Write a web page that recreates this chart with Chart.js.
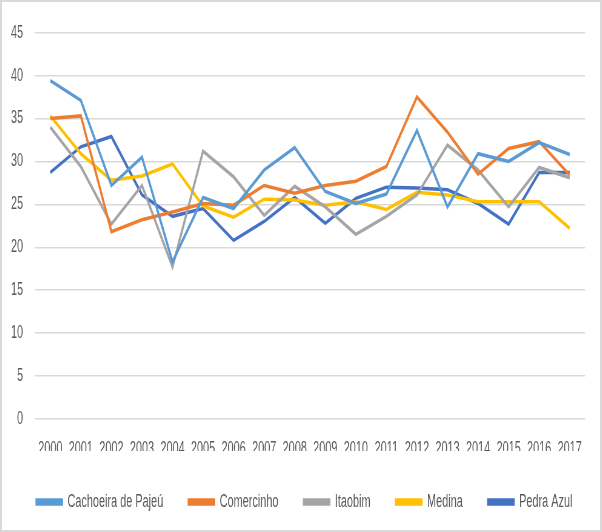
<!DOCTYPE html>
<html>
<head>
<meta charset="utf-8">
<script src="https://cdn.jsdelivr.net/npm/chart.js@4"></script>
<style>
  html, body { margin: 0; padding: 0; background: #fff; }
  #wrap { width: 598px; height: 528px; border: 2px solid #d9d9d9; overflow: hidden; }
  /* the original is horizontally squeezed; draw wider and compress */
  canvas { display: block; width: 598px !important; height: 528px !important; }
</style>
</head>
<body>
<div id="wrap"><canvas id="chart" width="987" height="528"></canvas></div>
<script>
// values
const years = ["2000","2001","2002","2003","2004","2005","2006","2007","2008","2009",
               "2010","2011","2012","2013","2014","2015","2016","2017"];
const cachoeira  = [39.4, 37.1, 27.2, 30.5, 18.3, 25.8, 24.5, 29.0, 31.6, 26.5, 25.1, 26.2, 33.6, 24.7, 30.9, 30.0, 32.2, 30.8];
const comercinho = [35.0, 35.3, 21.8, 23.2, 24.1, 25.1, 24.9, 27.2, 26.3, 27.2, 27.7, 29.4, 37.5, 33.4, 28.5, 31.5, 32.3, 28.4];
const itaobim    = [34.0, 29.4, 22.7, 27.2, 17.7, 31.2, 28.2, 23.7, 27.1, 24.7, 21.5, 23.6, 26.1, 31.9, 29.0, 24.7, 29.3, 28.1];
const medina     = [35.3, 30.9, 27.8, 28.3, 29.7, 24.8, 23.5, 25.6, 25.5, 24.9, 25.3, 24.4, 26.4, 26.1, 25.3, 25.3, 25.3, 22.2];
const pedraAzul  = [28.7, 31.7, 32.9, 26.1, 23.6, 24.5, 20.8, 23.0, 25.8, 22.8, 25.7, 27.0, 26.9, 26.7, 25.1, 22.7, 28.7, 28.7];

const SX = 1.65; // horizontal squeeze factor
const font = "'Liberation Sans', Arial, sans-serif";
const legendShift = 3.5;

function line(label, data, color) {
  return {
    label: label,
    data: data,
    borderColor: color,
    backgroundColor: color,
    borderWidth: 3.5,
    pointRadius: 0,
    tension: 0,
    fill: false
  };
}

// nudge the legend sideways after layout
const shiftLegend = {
  id: 'shiftLegend',
  afterLayout(chart) {
    const lg = chart.legend;
    lg.left += legendShift * SX;
    lg.right += legendShift * SX;
  }
};

new Chart(document.getElementById("chart"), {
  type: 'line',
  data: {
    labels: years,
    datasets: [
      line("Cachoeira de Pajeú", cachoeira, "#5B9BD5"),
      line("Comercinho", comercinho, "#ED7D31"),
      line("Itaobim", itaobim, "#A5A5A5"),
      line("Medina", medina, "#FFC000"),
      line("Pedra Azul", pedraAzul, "#4472C4")
    ]
  },
  plugins: [shiftLegend],
  options: {
    responsive: false,
    devicePixelRatio: 1,
    animation: false,
    layout: { padding: { top: 23, left: 0, right: 0, bottom: 9 } },
    plugins: {
      tooltip: { enabled: false },
      legend: {
        position: 'bottom',
        labels: {
          boxWidth: 25.5 * SX,
          boxHeight: 4,
          padding: 42,
          color: '#595959',
          font: { family: font, size: 18 }
        }
      }
    },
    scales: {
      x: {
        offset: true,
        grid: { display: false, drawTicks: false },
        border: { display: false },
        ticks: {
          color: '#595959',
          font: { family: font, size: 18 },
          autoSkip: false,
          maxRotation: 0,
          padding: 19
        },
        afterFit: s => { s.height = 32; }
      },
      y: {
        min: 0,
        max: 45,
        grid: { color: '#d9d9d9', lineWidth: 1.5, drawTicks: false },
        border: { display: false },
        ticks: {
          stepSize: 5,
          color: '#595959',
          font: { family: font, size: 18 },
          padding: 12 * SX
        },
        afterFit: s => { s.width = 33 * SX; }
      },
      // empty right-hand margin so the legend keeps the full width
      yRight: {
        type: 'linear',
        position: 'right',
        grid: { display: false, drawTicks: false },
        border: { display: false },
        ticks: { display: false },
        afterFit: s => { s.width = 15 * SX; }
      }
    }
  }
});
</script>
</body>
</html>
